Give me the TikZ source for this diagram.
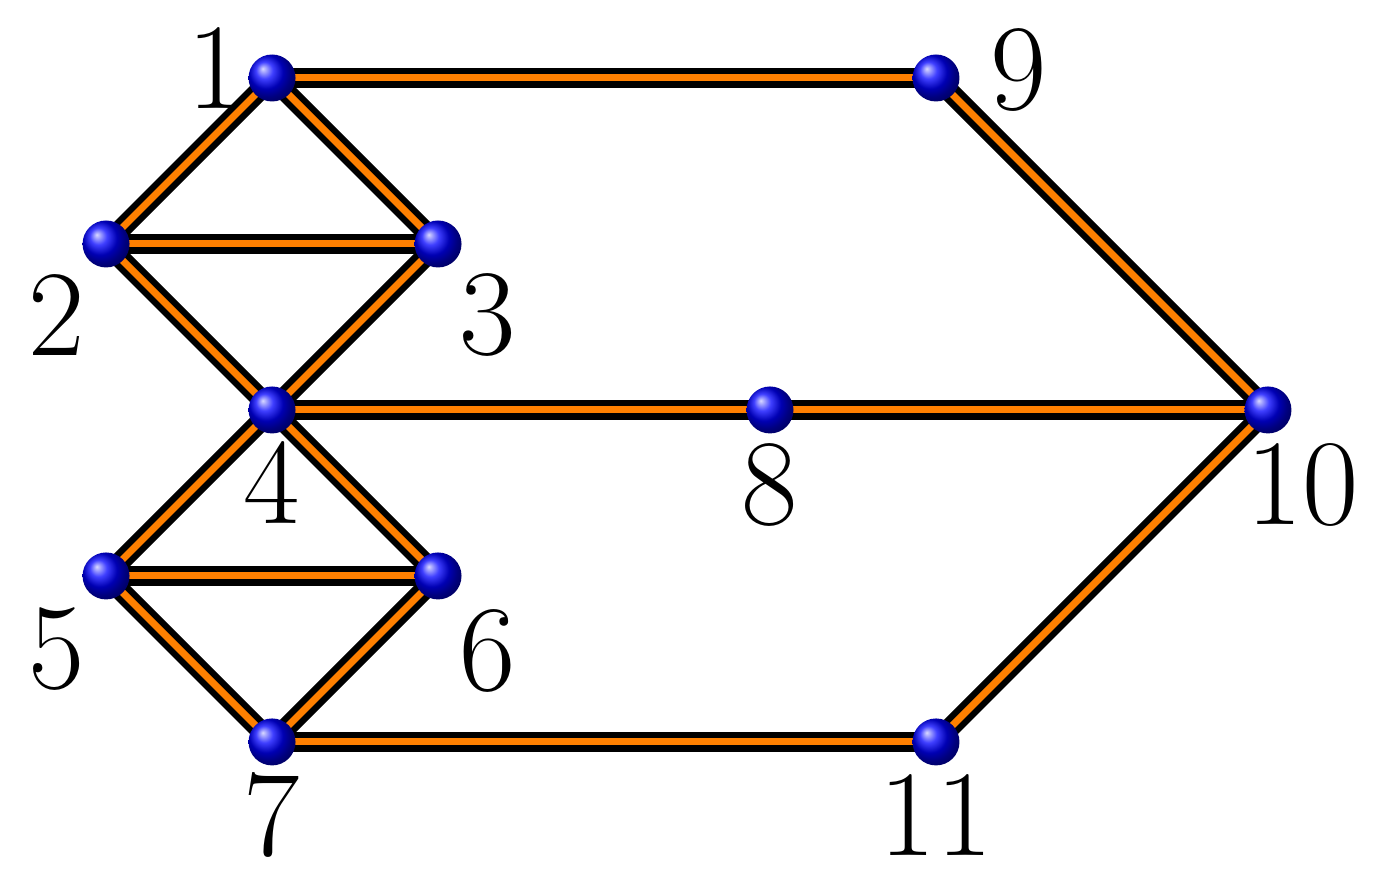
\documentclass[tikz,border=0pt]{standalone}
\usetikzlibrary{calc}
\definecolor{edgeorange}{RGB}{255,128,0}
\begin{document}
\begin{tikzpicture}[
  vtx/.style={circle,inner sep=0pt,minimum size=0.283cm,shading=ball,ball color=blue},
  lbl/.style={inner sep=0pt,anchor=center,font=\fontsize{21}{25}\selectfont},
  outer/.style={line width=3.4pt,black},
  inner/.style={line width=1.2pt,edgeorange}
]
\useasboundingbox (-1.639,-0.880) rectangle (6.669,4.470);
% vertex coordinates
\coordinate (c1) at (0,4);
\coordinate (c9) at (4,4);
\coordinate (c2) at (-1,3);
\coordinate (c3) at (1,3);
\coordinate (c4) at (0,2);
\coordinate (c8) at (3,2);
\coordinate (c10) at (6,2);
\coordinate (c5) at (-1,1);
\coordinate (c6) at (1,1);
\coordinate (c7) at (0,0);
\coordinate (c11) at (4,0);
% edges
\foreach \a/\b in {1/9,9/10,1/2,1/3,2/3,2/4,3/4,4/8,8/10,4/5,4/6,5/6,5/7,6/7,7/11,11/10}{
  \draw[outer] (c\a) -- (c\b);
  \draw[inner] (c\a) -- (c\b);
}
% vertices
\foreach \i in {1,...,11}{
  \node[vtx] (n\i) at (c\i) {};
}
% labels
\node[lbl] (l1) at ($(n1)+(-0.34,0.06)$) {1};
\node[lbl] (l9) at ($(n9)+(0.50,0.05)$) {9};
\node[lbl] (l2) at ($(n2)+(-0.30,-0.43)$) {2};
\node[lbl] (l3) at ($(n3)+(0.30,-0.43)$) {3};
\node[lbl] (l4) at ($(n4)+(0,-0.44)$) {4};
\node[lbl] (l8) at ($(n8)+(0,-0.45)$) {8};
\node[lbl] (l10) at ($(n10)+(0.21,-0.45)$) {10};
\node[lbl] (l5) at ($(n5)+(-0.30,-0.44)$) {5};
\node[lbl] (l6) at ($(n6)+(0.30,-0.45)$) {6};
\node[lbl] (l7) at ($(n7)+(0,-0.44)$) {7};
\node[lbl] (l11) at ($(n11)+(0,-0.44)$) {11};
\end{tikzpicture}
\end{document}
